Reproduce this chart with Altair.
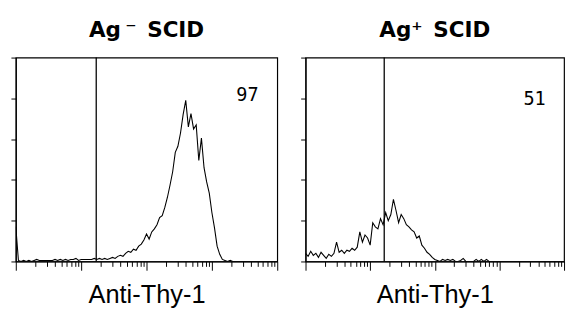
import altair as alt
import numpy as np
import pandas as pd

# Flow cytometry histograms: 101 channels spaced 0.04 decade apart on a 4-decade log axis
channel_decades = np.arange(101) * 0.04
channels = list(10 ** channel_decades)

left_counts = [
    34, 1, 0, 1, 0, 1, 0, 1, 2, 1,
    1, 1, 1, 1, 1, 2, 1, 2, 1, 2,
    1, 2, 2, 3, 1, 2, 2, 2, 2, 2,
    3, 2, 3, 2, 3, 2, 3, 4, 3, 5,
    6, 5, 8, 10, 9, 12, 11, 15, 17, 21,
    27, 22, 29, 32, 36, 43, 45, 53, 63, 75,
    88, 107, 113, 126, 144, 158, 132, 145, 130, 134,
    99, 121, 92, 78, 67, 48, 33, 15, 7, 2,
    1, 0, 1, 0, 0, 0, 0, 0, 0, 0,
    0, 0, 0, 0, 0, 0, 0, 0, 0, 0,
    0,
]

right_counts = [
    8, 5, 10, 6, 8, 4, 9, 6, 3, 7,
    5, 8, 19, 9, 11, 8, 11, 10, 13, 11,
    14, 29, 19, 26, 23, 16, 38, 34, 32, 42,
    36, 48, 40, 46, 61, 50, 38, 46, 42, 36,
    34, 31, 29, 23, 25, 16, 13, 9, 7, 4,
    2, 1, 0, 2, 1, 2, 1, 2, 0, 0,
    1, 3, 0, 0, 0, 0, 2, 0, 2, 0,
    2, 0, 0, 0, 0, 0, 0, 0, 0, 0,
    0, 0, 0, 0, 0, 0, 0, 0, 0, 0,
    0, 0, 0, 0, 0, 0, 0, 0, 0, 0,
    0,
]

panel_titles = ["Ag\u2009\u207b\u2002SCID", "Ag\u207a\u2002SCID"]
axis_title = "Anti-Thy-1"
gates = [17.0, 16.5]
percent_labels = ["97", "51"]
percent_x = [3500, 3500]
percent_y = [157, 153]

x_ticks = [k * 10 ** d for d in range(4) for k in range(1, 10)] + [10000]
y_ticks = [0, 40, 80, 120, 160, 200]


def panel(counts, gate, title_text, pct, px, py, width):
    df = pd.DataFrame({"v": channels, "n": counts})
    x = alt.X(
        "v:Q",
        scale=alt.Scale(type="log", domain=[1, 10000], nice=False),
        axis=alt.Axis(
            values=x_ticks,
            labels=False,
            grid=False,
            tickSize={
                "condition": {
                    "test": "indexof([1, 10, 100, 1000, 10000], datum.value) >= 0",
                    "value": 9,
                },
                "value": 5,
            },
            tickColor="black",
            tickWidth=1,
            domainColor="black",
            domainWidth=1.2,
            title=axis_title,
            titleFont="Liberation Sans",
            titleFontSize=26,
            titleFontWeight="normal",
            titleColor="black",
            titlePadding=12,
        ),
    )
    y = alt.Y(
        "n:Q",
        scale=alt.Scale(domain=[0, 200], nice=False),
        axis=alt.Axis(
            values=y_ticks,
            labels=False,
            grid=False,
            title=None,
            tickSize=5,
            tickColor="black",
            domainColor="black",
            domainWidth=1.2,
        ),
    )
    line = alt.Chart(df).mark_line(
        color="black", strokeWidth=1.1, clip=True
    ).encode(x=x, y=y)
    rule = alt.Chart(pd.DataFrame({"v": [gate]})).mark_rule(
        color="black", strokeWidth=1.3
    ).encode(x=alt.X("v:Q"))
    text = alt.Chart(pd.DataFrame({"v": [px], "n": [py], "t": [pct]})).mark_text(
        font="DejaVu Sans Mono", fontSize=19, baseline="alphabetic",
        align="center", color="black"
    ).encode(x=alt.X("v:Q"), y=alt.Y("n:Q"), text="t:N")
    return alt.layer(line, rule, text).properties(
        width=width,
        height=209,
        title=alt.TitleParams(
            title_text, font="DejaVu Sans", fontSize=22, fontWeight="bold",
            color="black", anchor="middle", baseline="alphabetic", offset=-2,
        ),
    )


left = panel(left_counts, gates[0], panel_titles[0], percent_labels[0],
             percent_x[0], percent_y[0], 268)
right = panel(right_counts, gates[1], panel_titles[1], percent_labels[1],
              percent_x[1], percent_y[1], 265)

chart = alt.hconcat(left, right, spacing=20).configure_view(
    stroke="black", strokeWidth=1.2
).properties(
    padding={"left": 1, "top": 7, "right": 0, "bottom": 0},
    background="white",
)

chart.save("out.html", embed_options={"renderer": "svg", "actions": False})
